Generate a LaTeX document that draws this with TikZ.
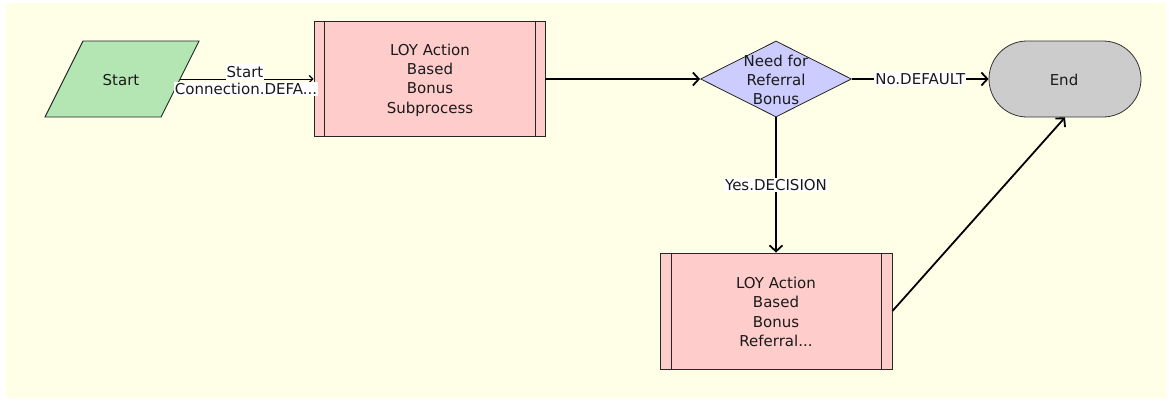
\documentclass[tikz,border=0pt]{standalone}
\usepackage{fontspec}
\setmainfont{DejaVu Sans}
\usetikzlibrary{arrows.meta,shapes.geometric}
\definecolor{bgyellow}{HTML}{FFFFE8}
\definecolor{startgreen}{HTML}{B4E6B4}
\definecolor{subpink}{HTML}{FFCCCC}
\definecolor{declav}{HTML}{CCCCFF}
\definecolor{endgray}{HTML}{CCCCCC}
\definecolor{txt}{HTML}{1A1A1A}
\begin{document}
\begin{tikzpicture}[x=1pt,y=-1pt,
  every node/.style={font=\fontsize{15}{19.3}\selectfont, text=txt},
  subp/.style={draw=black!85, line width=0.9pt, fill=subpink, rectangle, inner sep=0pt},
  decbox/.style={draw=black!85, line width=0.8pt, fill=declav, diamond, inner sep=0pt},
  endbox/.style={draw=black!80, line width=0.8pt, fill=endgray, rectangle, rounded corners=38pt, inner sep=0pt},
  conn/.style={line width=1.8pt, -{Straight Barb[length=6pt,width=13pt,line width=1.8pt]}},
  thinconn/.style={line width=0.9pt, -{Straight Barb[length=3.5pt,width=7pt,line width=1.2pt]}},
  lbl/.style={fill=white, inner sep=1pt}
]
\useasboundingbox (0,0) rectangle (1172,402);
\fill[white] (0,0) rectangle (1172,402);
\fill[bgyellow] (6,3) rectangle (1166,398);

% Start parallelogram
\filldraw[fill=startgreen, draw=black!85, line width=0.9pt] (83,41) -- (199,41) -- (161,117) -- (45,117) -- cycle;
\node (start) at (121,80) {Start};
\coordinate (startR) at (180,79);

% Subprocess 1
\node[subp, minimum width=231pt, minimum height=115pt] (sp1) at (429.5,79) {};
\draw[black!85, line width=0.9pt] ([xshift=11pt]sp1.north west) -- ([xshift=11pt]sp1.south west);
\draw[black!85, line width=0.9pt] ([xshift=-10pt]sp1.north east) -- ([xshift=-10pt]sp1.south east);
\node[align=center] (sp1t) at (430,80) {LOY Action\\Based\\Bonus\\Subprocess};

% Decision
\node[decbox, minimum width=151pt, minimum height=76pt] (dec) at (776,79) {};
\node[align=center] (dect) at (776,80) {Need for\\Referral\\Bonus};

% End
\node[endbox, minimum width=152pt, minimum height=76pt] (end) at (1065,79) {};
\node (endt) at (1064,80) {End};

% Subprocess 2
\node[subp, minimum width=232pt, minimum height=116pt] (sp2) at (776,311) {};
\draw[black!85, line width=0.9pt] ([xshift=12pt]sp2.north west) -- ([xshift=12pt]sp2.south west);
\draw[black!85, line width=0.9pt] ([xshift=-11pt]sp2.north east) -- ([xshift=-11pt]sp2.south east);
\node[align=center] (sp2t) at (776,312) {LOY Action\\Based\\Bonus\\Referral...};

% Connectors
\draw[thinconn] (startR) -- (sp1.west);
\node[lbl, inner ysep=2pt] (l1a) at (245,72) {Start};
\node[lbl] (l1b) at (246,89) {Connection.DEFA...};
\draw[conn] (sp1.east) -- (dec.west);
\draw[conn] (dec.east) -- node[lbl] (l2) {No.DEFAULT} (end.west);
\draw[conn] (dec.south) -- node[lbl] (l3) {Yes.DECISION} (sp2.north);
\draw[conn] (sp2.east) -- (end.south);
\end{tikzpicture}
\end{document}
